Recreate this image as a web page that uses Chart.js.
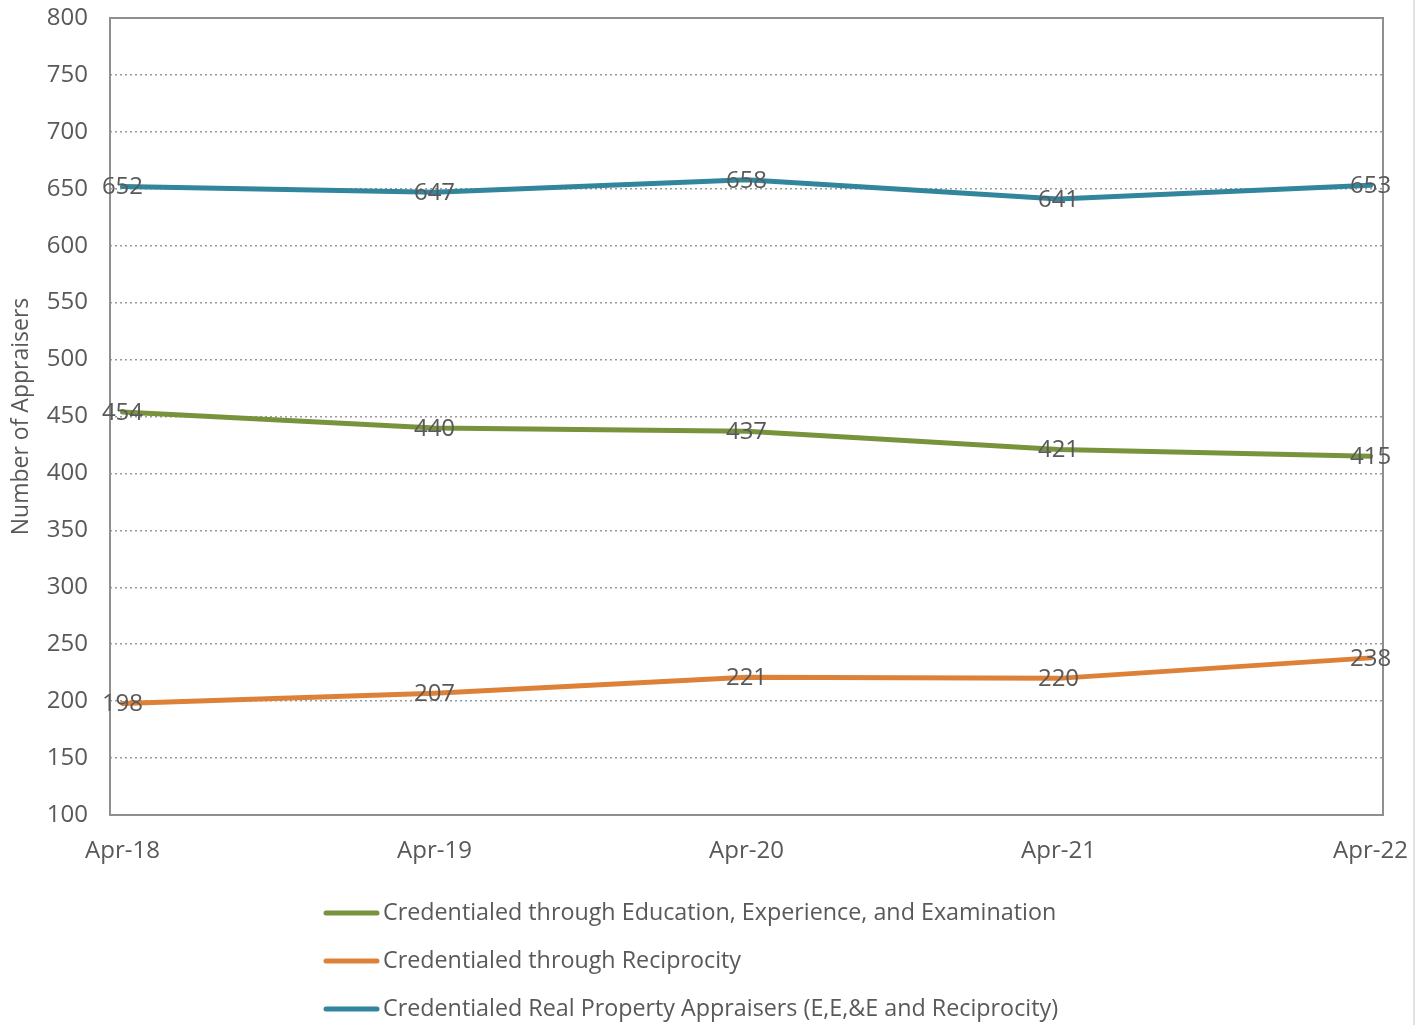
<!DOCTYPE html>
<html>
<head>
<meta charset="utf-8">
<script src="https://cdn.jsdelivr.net/npm/chart.js@4"></script>
<style>
  body { margin: 0; background: #fff; }
  canvas { display: block; }
</style>
</head>
<body>
<canvas id="appraiserChart" width="1423" height="1025"></canvas>
<script>
const periods = ['Apr-18', 'Apr-19', 'Apr-20', 'Apr-21', 'Apr-22'];
const eeeCounts = [454, 440, 437, 421, 415];
const reciprocityCounts = [198, 207, 221, 220, 238];
const totalCounts = [652, 647, 658, 641, 653];
const yTicks = [100, 150, 200, 250, 300, 350, 400, 450, 500, 550, 600, 650, 700, 750, 800];

const textColor = '#595959';
const fontFamily = '"Open Sans", "Noto Sans", sans-serif';

function toPoints(values) {
    return values.map((v, i) => ({ x: i, y: v }));
}

// frame around the plot area, drawn under the lines
const plotFrame = {
    id: 'plotFrame',
    beforeDatasetsDraw(chart) {
        const ctx = chart.ctx;
        const a = chart.chartArea;
        ctx.save();
        ctx.strokeStyle = '#8f8f8f';
        ctx.lineWidth = 2;
        ctx.strokeRect(a.left, a.top, a.right - a.left, a.bottom - a.top);
        ctx.restore();
    }
};

// value labels centred on every point
const pointLabels = {
    id: 'pointLabels',
    afterDatasetsDraw(chart) {
        const ctx = chart.ctx;
        ctx.save();
        ctx.font = '24px ' + fontFamily;
        ctx.fillStyle = textColor;
        ctx.textAlign = 'center';
        ctx.textBaseline = 'middle';
        chart.data.datasets.forEach((ds, di) => {
            chart.getDatasetMeta(di).data.forEach((pt, i) => {
                ctx.fillText(ds.data[i].y, pt.x, pt.y + 1);
            });
        });
        ctx.restore();
    }
};

// stacked legend underneath
const stackedLegend = {
    id: 'stackedLegend',
    afterDraw(chart) {
        const ctx = chart.ctx;
        const a = chart.chartArea;
        ctx.save();
        ctx.strokeStyle = '#d9d9d9';
        ctx.lineWidth = 1.5;
        ctx.beginPath();
        ctx.moveTo(1414, 0);
        ctx.lineTo(1414, chart.height);
        ctx.stroke();

        const order = [0, 1, 2];
        ctx.font = '23.3px ' + fontFamily;
        ctx.textBaseline = 'middle';
        ctx.textAlign = 'left';
        order.forEach((di, row) => {
            const ds = chart.data.datasets[di];
            const y = a.bottom + 98 + row * 48;
            ctx.strokeStyle = ds.borderColor;
            ctx.lineWidth = 5;
            ctx.lineCap = 'round';
            ctx.beginPath();
            ctx.moveTo(326, y);
            ctx.lineTo(377, y);
            ctx.stroke();
            ctx.fillStyle = textColor;
            ctx.fillText(ds.label, 383, y);
        });
        ctx.restore();
    }
};

const ctx = document.getElementById('appraiserChart').getContext('2d');
new Chart(ctx, {
    type: 'line',
    data: {
        datasets: [
            {
                label: 'Credentialed through Education, Experience, and Examination',
                borderColor: '#77933C',
                data: toPoints(eeeCounts)
            },
            {
                label: 'Credentialed through Reciprocity',
                borderColor: '#DE8138',
                data: toPoints(reciprocityCounts)
            },
            {
                label: 'Credentialed Real Property Appraisers (E,E,&E and Reciprocity)',
                borderColor: '#31859C',
                data: toPoints(totalCounts)
            }
        ]
    },
    options: {
        responsive: false,
        animation: false,
        layout: { padding: { top: 18, right: 40, bottom: 150, left: 0 } },
        elements: {
            line: { borderWidth: 5, tension: 0, borderCapStyle: 'round' },
            point: { radius: 0, hoverRadius: 0 }
        },
        plugins: {
            legend: { display: false },
            tooltip: { enabled: false }
        },
        scales: {
            x: {
                type: 'linear',
                min: -0.04,
                max: 4.04,
                afterBuildTicks: s => { s.ticks = periods.map((_, i) => ({ value: i })); },
                afterFit: s => {
                    s.height = 60;
                    s.paddingLeft = 0;
                    s.paddingRight = 0;
                },
                grid: { display: false, drawTicks: false },
                border: { display: false },
                ticks: {
                    callback: v => periods[v],
                    color: textColor,
                    font: { family: fontFamily, size: 24 },
                    padding: 22,
                    maxRotation: 0
                }
            },
            y: {
                min: 100,
                max: 800,
                afterBuildTicks: s => { s.ticks = yTicks.map(v => ({ value: v })); },
                afterFit: s => {
                    s.width = 110;
                    s.paddingTop = 0;
                    s.paddingBottom = 0;
                },
                grid: {
                    color: '#9a9a9a',
                    lineWidth: 1.5,
                    drawTicks: false
                },
                border: { display: false, dash: [2, 3] },
                ticks: {
                    color: textColor,
                    font: { family: fontFamily, size: 24 },
                    padding: 22
                },
                title: {
                    display: true,
                    text: 'Number of Appraisers',
                    color: textColor,
                    font: { family: fontFamily, size: 23 },
                    padding: { top: 8, bottom: 0 }
                }
            }
        }
    },
    plugins: [plotFrame, pointLabels, stackedLegend]
});
</script>
</body>
</html>
